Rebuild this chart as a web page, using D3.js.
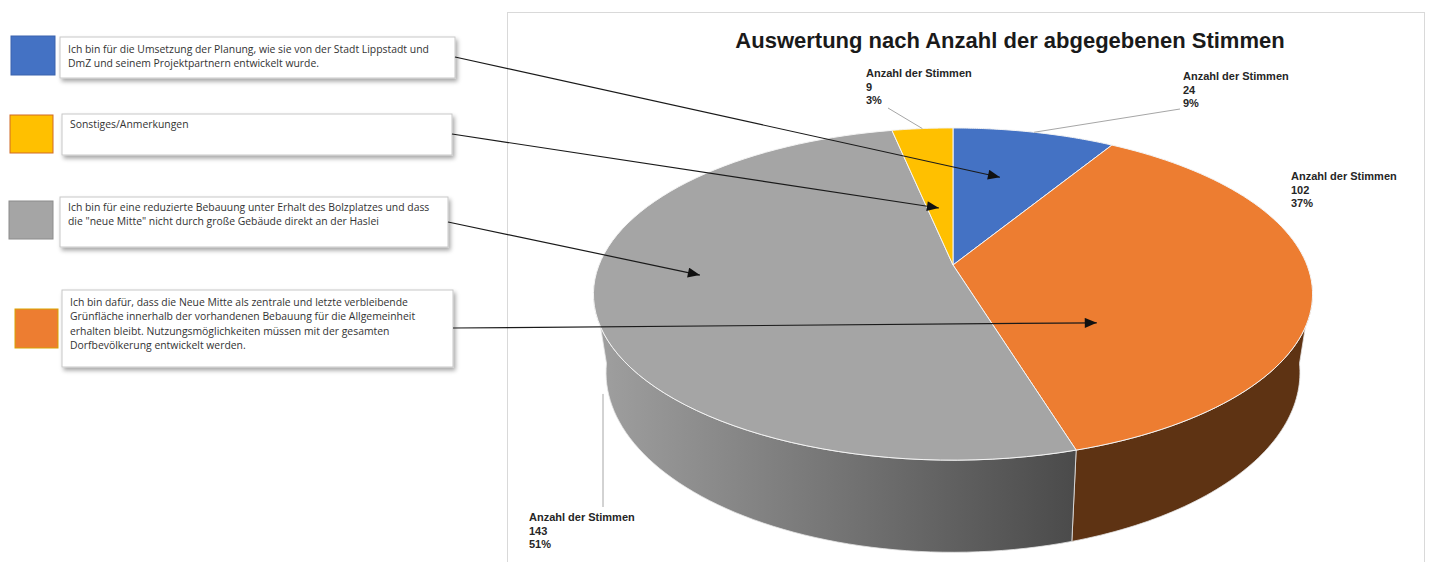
<!DOCTYPE html>
<html lang="de">
<head>
  <title>Auswertung nach Anzahl der abgegebenen Stimmen</title>
  <script src="https://d3js.org/d3.v7.min.js"></script>
  <style>
    body { margin: 0; background: #fff; }
  </style>
</head>
<body>
<script>
  /* slices in pie order, clockwise from 12 o'clock */
  var sliceNames = ["Umsetzung der Planung", "Neue Mitte erhalten", "reduzierte Bebauung", "Sonstiges"];
  var votes = [24, 102, 143, 9];
  var sliceColors = ["#4472c4", "#ed7d31", "#a5a5a5", "#ffc000"];
  var labelTitle = "Anzahl der Stimmen";
  var chartTitle = "Auswertung nach Anzahl der abgegebenen Stimmen";

  /* legend boxes on the left, top to bottom, and which slice each one belongs to */
  var legendSlice = [0, 3, 2, 1];
  var legendLines = [
    ["Ich bin für die Umsetzung der Planung, wie sie von der Stadt Lippstadt und",
     "DmZ und seinem Projektpartnern entwickelt wurde."],
    ["Sonstiges/Anmerkungen"],
    ["Ich bin für eine reduzierte Bebauung unter Erhalt des Bolzplatzes und dass",
     "die \"neue Mitte\" nicht durch große Gebäude direkt an der Haslei"],
    ["Ich bin dafür, dass die Neue Mitte als zentrale und letzte verbleibende",
     "Grünfläche innerhalb der vorhandenen Bebauung für die Allgemeinheit",
     "erhalten bleibt. Nutzungsmöglichkeiten müssen mit der gesamten",
     "Dorfbevölkerung entwickelt werden."]
  ];

  var width = 1431, height = 562;

  /* pie geometry: top face centre, radii, perspective and depth */
  var CX = 953, CY = 265, A = 354, B = 161, K = 0.175, DEPTH = 76, SB = 0.965;
  var sideColors = ["#2f4f8a", "#5e3313", "url(#greySide)", "#b08400"];

  var svg = d3.select("body").append("svg")
      .attr("width", width)
      .attr("height", height)
      .style("font-family", "'Liberation Sans', Arial, sans-serif");

  var defs = svg.append("defs");
  var grad = defs.append("linearGradient")
      .attr("id", "greySide")
      .attr("gradientUnits", "userSpaceOnUse")
      .attr("x1", CX - 360).attr("x2", CX + 125).attr("y1", 0).attr("y2", 0);
  grad.append("stop").attr("offset", 0).attr("stop-color", "#a0a0a0");
  grad.append("stop").attr("offset", 1).attr("stop-color", "#4a4a4a");

  var shadow = defs.append("filter").attr("id", "shadow")
      .attr("x", "-5%").attr("y", "-30%").attr("width", "115%").attr("height", "170%");
  shadow.append("feDropShadow")
      .attr("dx", 2).attr("dy", 3).attr("stdDeviation", 2)
      .attr("flood-color", "#000").attr("flood-opacity", 0.35);

  defs.append("marker")
      .attr("id", "arrow")
      .attr("markerUnits", "userSpaceOnUse")
      .attr("viewBox", "0 0 12 10")
      .attr("markerWidth", 13).attr("markerHeight", 10)
      .attr("refX", 12).attr("refY", 5)
      .attr("orient", "auto")
    .append("path")
      .attr("d", "M0,0 L12,5 L0,10 Z")
      .attr("fill", "#111");

  /* chart frame */
  svg.append("rect")
      .attr("x", 507.5).attr("y", 12.5)
      .attr("width", 917).attr("height", 570)
      .attr("fill", "#fff")
      .attr("stroke", "#d9d9d9");

  svg.append("text")
      .attr("x", 1010).attr("y", 48)
      .attr("text-anchor", "middle")
      .attr("font-size", 22)
      .attr("font-weight", "bold")
      .attr("fill", "#1a1a1a")
      .text(chartTitle);

  /* project an angle / radius on the disc to the screen */
  function proj(theta, r, bottom) {
    var u = r * Math.sin(theta), v = -r * Math.cos(theta);
    var w = 1 - K * v;
    var sx = bottom ? SB : 1;
    return [CX + A * sx * u / w, CY + (B * v + (bottom ? DEPTH : 0)) / w];
  }

  var pie = d3.pie().sort(null).value(function(d) { return d; });
  var arcs = pie(votes);
  var total = d3.sum(votes);
  var pct = d3.format(".0%");
  var line = d3.line();

  var VIS0 = Math.acos(-K) - 0.05, VIS1 = 2 * Math.PI - VIS0;

  /* side walls first */
  arcs.forEach(function(a, i) {
    var s0 = Math.max(a.startAngle, VIS0), s1 = Math.min(a.endAngle, VIS1);
    if (s1 <= s0) return;
    var n = 60, pts = [];
    d3.range(n + 1).forEach(function(j) { pts.push(proj(s0 + (s1 - s0) * j / n, 1, false)); });
    d3.range(n + 1).forEach(function(j) { pts.push(proj(s1 - (s1 - s0) * j / n, 1, true)); });
    svg.append("path")
        .attr("d", line(pts) + "Z")
        .attr("fill", sideColors[i])
        .attr("stroke", "#e6e6e6")
        .attr("stroke-width", 0.8);
  });

  /* top faces */
  arcs.forEach(function(a, i) {
    var n = 80, pts = [[CX, CY]];
    d3.range(n + 1).forEach(function(j) {
      pts.push(proj(a.startAngle + (a.endAngle - a.startAngle) * j / n, 1, false));
    });
    svg.append("path")
        .attr("d", line(pts) + "Z")
        .attr("fill", sliceColors[i])
        .attr("stroke", "#f4f4f4")
        .attr("stroke-width", 1);
  });

  /* data labels with leader lines */
  var labelPos = [[1183, 80], [1291, 180], [529, 521], [866, 77]];
  var leaders = [
    function(a) { return [[1180, 109], proj((a.startAngle + a.endAngle) / 2, 1, false)]; },
    null,
    function(a) { var p = proj(a.startAngle + 0.52 * (a.endAngle - a.startAngle), 1, true); return [[603, p[1] + 20], [603, 507]]; },
    function(a) { return [[888, 108], proj((a.startAngle + a.endAngle) / 2, 1, false)]; }
  ];

  arcs.forEach(function(a, i) {
    if (leaders[i]) {
      svg.append("path")
          .attr("d", line(leaders[i](a)))
          .attr("fill", "none")
          .attr("stroke", "#a6a6a6")
          .attr("stroke-width", 1);
    }
    var t = svg.append("text")
        .attr("x", labelPos[i][0]).attr("y", labelPos[i][1])
        .attr("font-size", 11)
        .attr("font-weight", "bold")
        .attr("fill", "#262626");
    [labelTitle, String(a.data), pct(a.data / total)].forEach(function(s, j) {
      t.append("tspan").attr("x", labelPos[i][0]).attr("dy", j ? 13.5 : 0).text(s);
    });
  });

  /* legend: colour square, shadowed text box, arrow into its slice */
  var squares = [[11, 36, 44, 39], [10, 115, 43, 38], [9, 201, 44, 38], [15, 309, 43, 39]];
  var boxes = [[60, 37, 395, 41], [62, 114, 390, 41], [60, 197, 388, 50], [62, 290, 391, 77]];
  var textTop = [53, 128, 211, 306];
  var arrowFrom = [[455, 57], [452, 134], [448, 222], [453, 328]];
  var arrowAt = [[0.44, 0.62], [0.45, 0.38], [0.55, 0.71], [0.76, 0.51]];
  var squareEdge = ["#3a63ad", "#d9a300", "#8c8c8c", "#d06a26"];

  legendLines.forEach(function(lines, i) {
    var si = legendSlice[i];
    svg.append("rect")
        .attr("x", squares[i][0]).attr("y", squares[i][1])
        .attr("width", squares[i][2]).attr("height", squares[i][3])
        .attr("fill", sliceColors[si])
        .attr("stroke", squareEdge[si])
        .attr("stroke-width", 1);

    svg.append("rect")
        .attr("x", boxes[i][0]).attr("y", boxes[i][1])
        .attr("width", boxes[i][2]).attr("height", boxes[i][3])
        .attr("fill", "#fff")
        .attr("stroke", "#c8c8c8")
        .attr("filter", "url(#shadow)");

    var t = svg.append("text")
        .attr("font-family", "'Open Sans', 'Noto Sans', sans-serif")
        .attr("font-size", 10.4)
        .attr("fill", "#333");
    lines.forEach(function(s, j) {
      t.append("tspan")
          .attr("x", boxes[i][0] + 8)
          .attr("y", textTop[i] + j * 14.3)
          .text(s);
    });
  });

  /* arrows are drawn last so they sit on the pie */
  legendLines.forEach(function(lines, i) {
    var a = arcs[legendSlice[i]];
    var tip = proj(a.startAngle + arrowAt[i][0] * (a.endAngle - a.startAngle), arrowAt[i][1], false);
    svg.append("line")
        .attr("x1", arrowFrom[i][0]).attr("y1", arrowFrom[i][1])
        .attr("x2", tip[0]).attr("y2", tip[1])
        .attr("stroke", "#1a1a1a")
        .attr("stroke-width", 1.2)
        .attr("marker-end", "url(#arrow)");
  });
</script>
</body>
</html>
